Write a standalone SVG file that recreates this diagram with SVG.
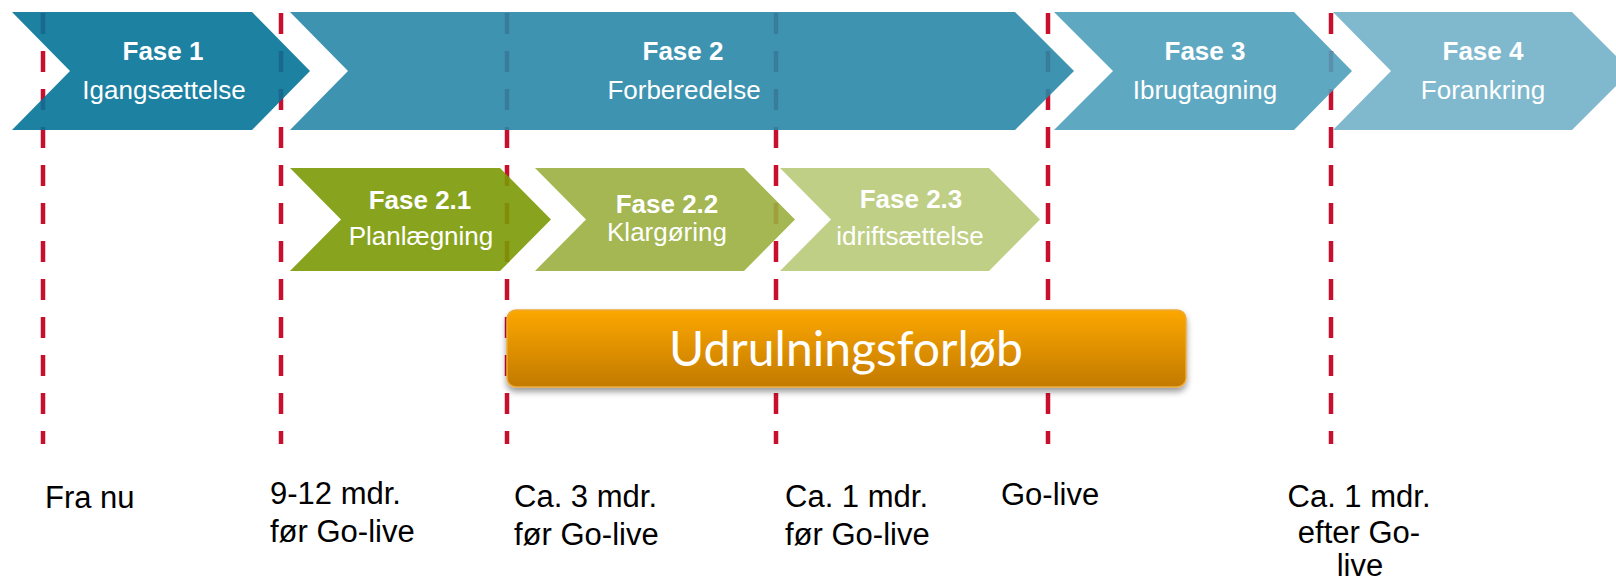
<svg xmlns="http://www.w3.org/2000/svg" width="1616" height="581" viewBox="0 0 1616 581">
<defs>
<style>
.vline{stroke:#C8102E;stroke-width:4.5;stroke-dasharray:21 17;fill:none}
.chev{fill-opacity:0.9}
.t1{font-family:"Liberation Sans",Arial,sans-serif;font-size:26px;font-weight:bold;fill:#fff;text-anchor:middle}
.t2{font-family:"Liberation Sans",Arial,sans-serif;font-size:26px;fill:#fff;text-anchor:middle}
.lbl{font-family:"Liberation Sans",Arial,sans-serif;font-size:31px;fill:#000}
.big{font-family:Lato,"Open Sans",sans-serif;font-size:48px;fill:#fff;text-anchor:middle}
</style>
<linearGradient id="og" x1="0" y1="0" x2="0" y2="1">
<stop offset="0" stop-color="#FCA700"/>
<stop offset="1" stop-color="#C27A00"/>
</linearGradient>
<filter id="sh" x="-5%" y="-20%" width="110%" height="150%">
<feDropShadow dx="0" dy="4" stdDeviation="3" flood-color="#000" flood-opacity="0.4"/>
</filter>
</defs>
<rect width="1616" height="581" fill="#fff"/>
<g id="connectors">
<line class="vline" x1="43" y1="13" x2="43" y2="444"/>
<line class="vline" x1="281" y1="13" x2="281" y2="444"/>
<line class="vline" x1="507" y1="13" x2="507" y2="444"/>
<line class="vline" x1="776" y1="13" x2="776" y2="444"/>
<line class="vline" x1="1048" y1="13" x2="1048" y2="444"/>
<line class="vline" x1="1331" y1="13" x2="1331" y2="444"/>
</g>
<g id="fase1">
<polygon class="chev" fill="#047398" points="12,12 252,12 310,71 252,130 12,130 70,71"/>
<text class="t1" x="163" y="60">Fase 1</text>
<text class="t2" x="164" y="99">Igangsættelse</text>
</g>
<g id="fase2">
<polygon class="chev" fill="#2987A7" points="290,12 1015,12 1074,71 1015,130 290,130 348,71"/>
<text class="t1" x="683" y="60">Fase 2</text>
<text class="t2" x="684" y="99">Forberedelse</text>
</g>
<g id="fase3">
<polygon class="chev" fill="#4E9EBB" points="1054,12 1294,12 1352,71 1294,130 1054,130 1113,71"/>
<text class="t1" x="1205" y="60">Fase 3</text>
<text class="t2" x="1205" y="99">Ibrugtagning</text>
</g>
<g id="fase4">
<polygon class="chev" fill="#72B1C9" points="1333,12 1572,12 1631,71 1572,130 1333,130 1391,71"/>
<text class="t1" x="1483" y="60">Fase 4</text>
<text class="t2" x="1483" y="99">Forankring</text>
</g>
<g id="fase21">
<polygon class="chev" fill="#7B9A06" points="290,168 500,168 551,219.5 500,271 290,271 341,219.5"/>
<text class="t1" x="420" y="209">Fase 2.1</text>
<text class="t2" x="421" y="245">Planlægning</text>
</g>
<g id="fase22">
<polygon class="chev" fill="#9AAF3F" points="535,168 744,168 795,219.5 744,271 535,271 586,219.5"/>
<text class="t1" x="667" y="213">Fase 2.2</text>
<text class="t2" x="667" y="241">Klargøring</text>
</g>
<g id="fase23">
<polygon class="chev" fill="#B8CA79" points="780,168 989,168 1040,219.5 989,271 780,271 831,219.5"/>
<text class="t1" x="911" y="208">Fase 2.3</text>
<text class="t2" x="910" y="245">idriftsættelse</text>
</g>
<g id="udrulning">
<rect x="507" y="310" width="679" height="77" rx="9" fill="url(#og)" stroke="#EDAA3A" stroke-width="1.5" filter="url(#sh)"/>
<text class="big" x="846" y="366">Udrulningsforløb</text>
</g>
<g id="labels">
<text class="lbl" x="45" y="508">Fra nu</text>
<text class="lbl" x="270" y="504">9-12 mdr.</text>
<text class="lbl" x="270" y="542">før Go-live</text>
<text class="lbl" x="514" y="507">Ca. 3 mdr.</text>
<text class="lbl" x="514" y="545">før Go-live</text>
<text class="lbl" x="785" y="507">Ca. 1 mdr.</text>
<text class="lbl" x="785" y="545">før Go-live</text>
<text class="lbl" x="1001" y="505">Go-live</text>
<text class="lbl" x="1359" y="507" text-anchor="middle">Ca. 1 mdr.</text>
<text class="lbl" x="1359" y="543" text-anchor="middle">efter Go-</text>
<text class="lbl" x="1360" y="576" text-anchor="middle">live</text>
</g>
</svg>
